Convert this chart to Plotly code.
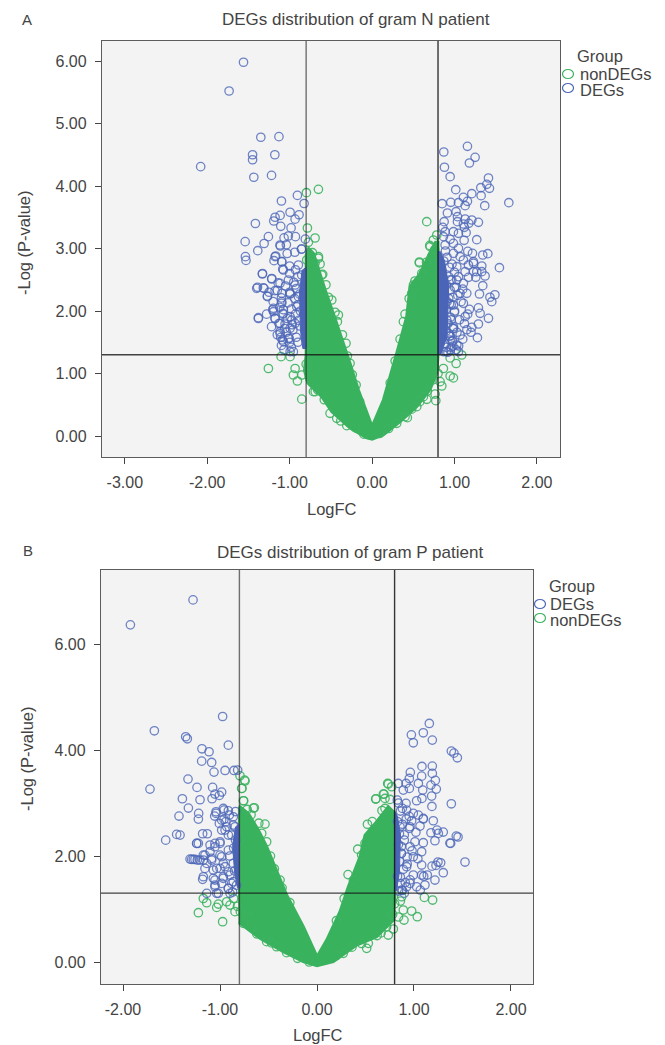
import plotly.graph_objects as go

# ---------- Panel A values (LogFC, -Log P) ----------
a_deg_x = [-1.56,-1.735,-1.35,-1.13,-1.45,-1.45,-1.18,-2.08,-1.435,-1.22,-0.906,-1.10,-0.825,-0.995,-0.886,-0.934,-1.116,-1.177,-1.193,-1.416,-1.108,-0.983,-1.258,-1.068,-1.016,-0.93,-0.81,-1.54,-1.31,-1.113,-1.04,-1.387,-0.858,-0.938,-1.03,-1.537,-1.53,-1.169,-1.19,-1.096,-1.0,-1.084,-1.33,-1.217,-1.39,-1.32,-1.27,-1.14,-1.38,-1.205,-1.177,-1.076,-1.096,-0.995,-0.975,-1.116,-1.088,-1.016,-0.955,
 -1.25,-1.15,-1.05,-0.95,-0.9,-1.2,-1.1,-1.0,-0.92,-1.28,-1.12,-1.02,-0.94,-0.88,-1.08,-0.98,-0.9,-1.22,-1.13,-1.03,-0.93,-0.87,-1.06,-0.97,-0.89,-1.15,-1.04,-0.96,-0.88,-1.1,-1.0,-0.92,-1.07,-0.98,-0.9,-1.0,-0.93,
 -1.117,-1.177,-1.096,-1.076,-1.331,-1.218,-1.4,-1.311,-1.27,-1.177,-1.117,-1.015,-1.096,-0.995,-1.096,-1.197,-1.197,-1.177,-1.379,-1.08,-0.995,-1.117,-1.056,-1.117,-1.109,-1.076,-1.004,-0.995,-0.934,-0.914,-0.894,-0.934,-0.854,-0.894,-0.995,-0.854,
 1.157,0.87,1.25,1.181,0.878,0.947,1.412,1.392,1.319,1.424,1.015,1.21,1.323,1.108,1.659,1.367,0.85,0.955,1.048,1.157,1.129,1.019,0.914,1.036,1.129,1.21,1.29,0.874,1.036,1.108,1.173,0.858,1.12,0.886,0.987,1.141,1.048,0.866,0.947,1.117,1.27,0.987,0.886,1.048,1.161,1.218,1.343,1.404,0.987,1.068,1.108,1.23,1.331,1.545,1.028,1.169,1.129,1.23,1.331,1.371,1.169,1.258,1.048,0.967,1.108,1.343,1.303,1.452,1.181,1.311,1.129,1.412,1.21,1.29,1.278,1.068,1.028,0.947,1.068,1.149,1.108,0.987,1.23,1.27,1.028,0.947,0.906,0.987,0.947,1.048,0.866,1.49,1.43,1.29,
 0.9,1.0,1.1,0.93,1.04,0.96,1.08,0.9,1.0,1.16,0.95,1.06,0.92,1.12,0.98,0.9,1.03,1.2,0.94,1.1,0.98,0.88,1.05,0.96,1.15,0.9,1.02,
 0.97,1.0,0.95,1.02,0.98,0.94,1.0,0.96,0.99,0.93,0.97,0.91,0.94,0.98,0.92,0.89,0.95,0.9,0.93,0.87,0.91,0.86]
a_deg_y = [5.98,5.52,4.78,4.79,4.50,4.42,4.50,4.31,4.14,4.17,3.85,3.76,3.72,3.58,3.54,3.47,3.53,3.50,3.44,3.40,3.355,3.33,3.19,3.17,3.20,3.19,3.15,3.11,3.08,3.04,3.06,2.965,2.99,2.94,2.92,2.87,2.81,2.88,2.805,2.79,2.72,2.67,2.60,2.52,2.38,2.37,2.23,2.45,1.88,2.02,1.88,2.02,2.15,2.28,1.856,1.64,1.536,1.56,1.35,
 2.30,2.33,2.40,2.46,2.55,2.15,2.21,2.30,2.36,1.95,2.06,2.13,2.20,2.27,1.95,2.03,2.10,1.75,1.80,1.88,1.95,2.0,1.72,1.78,1.85,1.62,1.66,1.70,1.76,1.45,1.5,1.58,1.38,1.42,1.5,2.6,2.66,
 3.056,2.869,2.789,2.656,2.592,2.512,2.363,2.363,2.24,2.325,2.443,2.496,2.283,2.272,2.123,2.043,1.989,1.883,1.893,1.963,1.909,1.803,1.792,1.669,1.579,1.509,1.563,1.723,1.803,2.069,2.229,2.416,2.576,2.736,1.349,2.992,
 4.635,4.544,4.459,4.368,4.30,4.149,4.128,4.027,3.973,3.963,3.941,3.877,3.845,3.819,3.733,3.685,3.717,3.739,3.733,3.755,3.685,3.589,3.568,3.509,3.472,3.456,3.419,3.429,3.429,3.392,3.403,3.339,3.339,3.269,3.269,3.253,3.243,3.189,3.147,3.131,3.141,3.083,3.056,3.003,2.955,2.923,2.896,2.917,2.923,2.869,2.816,2.789,2.72,2.693,2.709,2.736,2.629,2.629,2.629,2.56,2.539,2.539,2.549,2.496,2.443,2.405,2.272,2.149,2.027,1.963,1.909,1.883,1.739,1.792,1.573,1.616,1.456,1.376,2.283,2.283,2.123,2.096,2.763,2.629,2.496,2.336,1.856,1.749,1.536,1.349,1.349,2.26,2.22,2.05,
 2.42,2.38,2.35,2.2,2.25,2.1,2.15,2.03,2.0,1.95,1.9,1.86,1.8,1.8,1.72,1.68,1.66,1.66,1.6,1.55,1.52,1.48,1.44,1.42,1.7,1.35,1.38,
 2.75,2.62,2.5,2.38,2.22,2.12,1.98,1.86,1.72,1.64,1.52,2.86,2.7,1.44,1.34,2.96,1.6,1.42,2.55,2.8,2.15,1.9]
a_non_x = [-1.104,-1.258,-0.995,-0.934,-0.955,-0.853,-0.906,-0.853,-0.69,0.38,0.574,0.947,0.987,0.846,0.825,0.765,0.773,0.664,0.428,-0.307,1.02,1.088,0.947,0.865,-0.797,-0.651,-0.785,-0.692,-0.773,-0.724,-0.651,-0.631,-0.599,-0.712,-0.793,0.663,0.574,0.744,0.704,0.785,0.724,0.603,0.502,-0.611,-0.692,-0.651,-0.489,-0.409,-0.421,-0.316,-0.267,-0.194,0.502,0.481,0.623,0.724,-0.712,-0.51,-0.429,0.299,0.542,0.623,
 -0.56,-0.53,-0.45,-0.36,-0.3,-0.24,-0.15,-0.8,-0.76,-0.66,-0.58,-0.38,-0.2,-0.1,0.09,0.2,0.4,0.48,0.58,0.67,0.74,0.8,0.45,0.4,0.34,0.28,0.22,0.52,0.66,0.76,0.7]
a_non_y = [1.27,1.08,1.27,1.08,0.976,0.976,0.88,0.59,0.71,1.83,2.77,0.96,0.93,0.80,0.87,0.67,0.565,0.587,0.293,0.165,1.16,1.296,1.25,1.08,3.893,3.947,3.328,3.168,3.099,2.933,2.843,2.752,2.587,2.709,2.816,3.429,2.784,3.136,3.029,3.216,2.843,2.603,2.416,2.576,2.763,2.869,2.176,1.936,1.829,1.483,1.163,0.816,2.363,2.283,2.603,2.869,0.709,0.363,0.283,0.203,0.469,0.629,
 2.42,2.22,1.98,1.62,1.28,0.98,0.55,1.15,0.94,0.74,0.58,0.24,0.13,0.03,0.04,0.12,0.31,0.43,0.55,0.72,0.9,1.0,2.2,1.95,1.55,1.2,0.85,2.48,2.78,2.98,3.05]
a_band_x = [0,-0.166,-0.267,-0.307,-0.368,-0.47,-0.57,-0.65,-0.71,-0.77,-0.8,-0.8,-0.82,-0.78,-0.61,-0.49,-0.267,-0.065,0,0.135,0.34,0.54,0.70,0.785,0.8,0.8,0.77,0.70,0.583,0.46,0.42,0.30,0.137,0]
a_band_y = [0.15,0.736,1.16,1.32,1.59,1.96,2.34,2.66,2.92,3.0,2.9,1.3,1.05,0.85,0.63,0.39,0.128,-0.03,-0.05,0.016,0.23,0.47,0.736,1.0,1.3,3.1,3.1,2.93,2.6,2.39,1.91,1.33,0.576,0.15]
a_core_x = [-0.8,-0.8,-0.84,-0.87,-0.88,-0.85,-0.8,None, 0.8,0.8,0.84,0.91,0.93,0.88,0.83,0.8]
a_core_y = [2.7,1.4,1.4,1.7,2.3,2.65,2.7,None, 2.95,1.32,1.32,1.6,2.4,2.8,2.95,2.95]

# ---------- Panel B values ----------
b_deg_x = [-1.278,-1.924,-0.973,-1.677,-1.354,-1.337,-0.914,-1.186,-1.113,-1.189,-1.086,-1.062,-0.948,-0.856,-0.818,-1.33,-1.237,-1.722,-1.076,-0.983,-1.052,-1.007,-1.082,-1.388,-1.206,-1.326,-1.423,-1.22,-1.223,-1.041,-1.055,-0.959,-0.914,-0.959,-0.863,-1.007,-0.931,-0.845,-0.983,-1.447,-1.179,-1.131,-1.56,-0.914,-1.412,-1.24,-1.223,-1.0,-1.052,-1.103,-1.155,-1.309,-1.275,-1.234,-1.172,-1.086,-0.983,-0.966,-1.155,-1.069,-1.0,-0.914,-1.179,-1.052,-0.966,-0.863,-1.052,-0.914,-0.983,-1.034,-0.897,-1.137,
 -0.966,-1.041,-0.983,-0.904,-0.863,-0.948,-0.88,-1.103,-1.052,-1.0,-1.172,-1.086,-1.0,-0.914,-1.137,-1.034,-0.948,-1.172,-1.069,-0.966,-0.863,-0.897,-1.052,-0.914,-1.017,-0.88,-1.241,-1.292,-1.258,-1.206,-0.84,-0.86,-0.9,-0.85,-0.83,-0.87,-0.94,-0.84,
 1.158,0.973,1.096,0.993,1.189,1.385,1.412,1.447,1.082,1.189,0.962,1.189,1.079,0.952,1.22,0.838,0.918,1.045,1.175,0.89,0.952,1.09,1.23,1.182,1.027,1.082,0.828,0.918,1.385,1.185,0.924,1.045,1.096,1.199,0.976,1.062,0.952,0.856,1.175,1.251,1.302,1.436,1.378,1.216,1.275,1.227,1.302,1.216,1.137,1.079,1.079,1.079,1.01,1.096,0.959,0.993,0.924,0.993,0.924,1.027,1.113,0.959,0.873,1.065,0.993,1.096,0.959,1.526,1.237,1.454,1.37,1.247,1.186,1.10,
 0.88,0.95,1.02,0.9,0.98,0.87,1.04,0.93,0.86,0.96,0.9,0.88,
 0.84,0.86,0.83,0.88,0.85,0.9,0.84,0.87,0.93,0.85,0.89,0.83,0.86,0.91,0.84,0.92,0.87]
b_deg_y = [6.836,6.365,4.635,4.365,4.252,4.214,4.094,4.025,3.969,3.792,3.767,3.585,3.616,3.616,3.623,3.453,3.296,3.264,3.296,3.208,3.17,3.145,3.082,3.082,3.063,2.906,2.755,2.805,2.698,2.836,2.755,2.868,2.855,2.692,2.742,2.616,2.553,2.553,2.49,2.409,2.421,2.421,2.30,2.396,2.396,2.239,2.239,2.239,2.176,2.082,2.019,1.943,1.937,1.925,1.925,1.925,1.987,1.862,1.767,1.736,1.767,1.704,1.56,1.547,1.579,1.516,1.421,1.39,1.484,1.296,1.296,1.296,
 2.899,2.805,2.679,2.774,2.585,2.491,2.396,2.208,2.239,2.27,2.019,1.956,2.019,2.113,1.862,1.767,1.799,1.61,1.579,1.61,1.862,1.642,1.453,1.39,1.296,1.484,2.239,1.937,1.937,1.925,2.3,2.15,2.0,1.72,1.45,1.32,2.65,2.84,
 4.503,4.289,4.327,4.138,4.189,3.981,3.943,3.855,3.692,3.698,3.579,3.56,3.509,3.465,3.428,3.371,3.371,3.371,3.34,3.245,3.277,3.245,3.264,3.132,3.044,3.088,3.057,2.994,2.987,2.937,2.868,2.774,2.698,2.667,2.667,2.566,2.522,2.553,2.44,2.428,2.453,2.377,2.239,2.289,1.874,1.824,1.686,1.547,1.642,1.642,1.83,2.082,2.27,2.252,2.176,1.987,1.799,1.642,1.421,1.421,1.453,1.484,1.358,1.358,2.805,2.711,2.553,1.887,2.49,2.36,2.245,1.887,1.81,1.62,
 2.9,2.75,2.45,2.3,2.1,2.05,1.95,1.85,1.6,1.55,1.3,1.35,
 3.0,2.85,2.65,2.6,2.42,2.4,2.22,2.05,1.98,1.9,1.75,1.62,1.48,1.5,1.34,2.7,2.18]
b_non_x = [-1.172,-1.137,-1.223,-0.973,-1.017,-1.034,-0.897,-0.845,-0.931,1.107,1.192,1.034,0.976,0.89,0.897,0.787,0.735,0.873,-0.536,-0.646,-0.759,-0.742,-0.777,-0.794,-0.746,-0.773,-0.756,-0.656,0.729,0.77,0.691,0.608,0.701,0.753,0.701,-0.708,-0.759,-0.519,-0.416,-0.313,0.271,0.512,0.529,0.718,0.605,0.684,0.735,0.495,0.46,0.375,-0.381,-0.519,-0.57,
 -0.6,-0.68,-0.72,-0.48,-0.44,-0.36,-0.28,-0.24,-0.17,-0.82,-0.86,-0.79,-0.62,-0.47,-0.2,-0.08,0.1,0.2,0.36,0.46,0.62,0.66,0.76,0.42,0.52,0.32,0.28,0.2,0.57,0.67,0.78,0.8,0.84,0.86]
b_non_y = [1.2,1.119,0.931,0.761,1.094,1.031,1.075,0.95,1.138,1.22,1.17,0.855,0.962,0.981,0.792,0.623,0.509,1.233,2.604,2.912,3.044,3.415,3.277,3.516,3.434,3.277,3.044,2.906,3.371,3.308,3.17,3.082,3.088,3.069,2.899,0.855,0.73,0.384,0.289,0.176,0.164,0.258,0.352,0.667,3.075,3.17,3.358,2.239,2.019,1.547,1.547,2.27,2.428,
 2.62,2.78,2.88,2.0,1.76,1.4,1.12,0.85,0.6,1.05,1.2,0.95,0.53,0.36,0.07,0.0,0.05,0.12,0.28,0.35,0.5,0.55,0.88,2.13,2.6,1.65,1.2,0.78,2.65,2.86,0.9,1.1,0.85,1.15]
b_band_x = [0,-0.141,-0.313,-0.416,-0.519,-0.605,-0.708,-0.794,-0.8,-0.8,-0.794,-0.588,-0.347,-0.141,0,0.168,0.409,0.615,0.787,0.804,0.804,0.735,0.615,0.495,0.443,0.323,0.237,0.1,0]
b_band_y = [0.10,0.667,1.264,1.736,2.176,2.491,2.805,2.93,2.9,1.3,0.73,0.447,0.195,0.006,-0.07,0.006,0.32,0.478,0.792,1.296,2.805,2.93,2.648,2.396,1.987,1.421,0.95,0.415,0.10]
b_core_x = [-0.8,-0.8,-0.82,-0.85,-0.87,-0.84,-0.8,None, 0.8,0.8,0.82,0.85,0.86,0.83,0.8]
b_core_y = [2.6,1.4,1.4,1.7,2.2,2.55,2.6,None, 2.85,1.35,1.35,1.7,2.4,2.75,2.85]

a_xticks = [-3, -2, -1, 0, 1, 2]
a_yticks = [0, 1, 2, 3, 4, 5, 6]
b_xticks = [-2, -1, 0, 1, 2]
b_yticks = [0, 2, 4, 6]

W, H = 665, 1045
BLUE, GREEN = "#4c66b8", "#3cb361"
FONT = "Liberation Sans"
TXT = "#444444"

fig = go.Figure()

def add_panel(xa, ya, non_x, non_y, band_x, band_y, deg_x, deg_y, core_x, core_y):
    mk = dict(symbol="circle-open", size=8.4, line=dict(width=1.3))
    fig.add_trace(go.Scatter(x=band_x, y=band_y, mode="lines", fill="toself", fillcolor="#39b25e",
                             line=dict(color="#39b25e", width=3), xaxis=xa, yaxis=ya, showlegend=False, hoverinfo="skip"))
    fig.add_trace(go.Scatter(x=non_x, y=non_y, mode="markers", name="nonDEGs", xaxis=xa, yaxis=ya, showlegend=False,
                             marker=dict(color=GREEN, opacity=0.9, **mk)))
    fig.add_trace(go.Scatter(x=core_x, y=core_y, mode="lines", fill="toself", fillcolor="#4a64b6",
                             line=dict(color="#4a64b6", width=1), xaxis=xa, yaxis=ya, showlegend=False, hoverinfo="skip"))
    fig.add_trace(go.Scatter(x=deg_x, y=deg_y, mode="markers", name="DEGs", xaxis=xa, yaxis=ya, showlegend=False,
                             marker=dict(color=BLUE, opacity=0.8, **mk)))

add_panel("x", "y", a_non_x, a_non_y, a_band_x, a_band_y, a_deg_x, a_deg_y, a_core_x, a_core_y)
add_panel("x2", "y2", b_non_x, b_non_y, b_band_x, b_band_y, b_deg_x, b_deg_y, b_core_x, b_core_y)

def common(vals, rng):
    return dict(range=rng, tickvals=vals, ticktext=[f"{v:.2f}" for v in vals],
                ticks="outside", ticklen=6, tickwidth=1.2, tickcolor="#444", showgrid=False, zeroline=False,
                showline=True, linecolor="#5c5c5c", linewidth=1.3, mirror=True,
                ticklabelstandoff=5, tickfont=dict(family=FONT, size=16, color=TXT))

def ax(px0, px1, rng, vals):
    return dict(domain=[px0 / W, px1 / W], **common(vals, rng))

def ay(py0, py1, rng, vals):
    return dict(domain=[1 - py1 / H, 1 - py0 / H], **common(vals, rng))

shapes = []
for xr, yr, y0, y1, x0, x1 in [("x", "y", -0.336, 6.32, -3.277, 2.28),
                               ("x2", "y2", -0.415, 7.4, -2.227, 2.227)]:
    for v, c in zip((-0.8, 0.8), ("rgba(40,40,40,0.65)", "rgba(20,20,20,0.85)")):
        shapes.append(dict(type="line", xref=xr, yref=yr, x0=v, x1=v, y0=y0, y1=y1, line=dict(color=c, width=1.4), layer="above"))
    shapes.append(dict(type="line", xref=xr, yref=yr, x0=x0, x1=x1, y0=1.3, y1=1.3, line=dict(color="rgba(20,20,20,0.8)", width=1.3), layer="above"))

annotations = []
def text(px, py, s, size=16.5, angle=0, xanchor="center"):
    annotations.append(dict(xref="paper", yref="paper", x=px / W, y=1 - py / H, text=s, showarrow=False,
                            font=dict(family=FONT, size=size, color=TXT), textangle=angle, xanchor=xanchor, yanchor="middle"))

text(27, 20, "A", 15)
text(356, 20, "DEGs distribution of gram N patient", 17)
text(24, 243, "-Log (P-value)", 16.5, angle=-90)
text(332, 509, "LogFC", 16.5)
text(575, 56, "Group", 16.5, xanchor="left")
text(578, 74, "nonDEGs", 16.5, xanchor="left")
text(578, 90, "DEGs", 16.5, xanchor="left")

text(28, 550, "B", 15)
text(350, 552, "DEGs distribution of gram P patient", 17)
text(27, 759, "-Log (P-value)", 16.5, angle=-90)
text(318, 1035, "LogFC", 16.5)
text(547, 586, "Group", 16.5, xanchor="left")
text(548, 603.5, "DEGs", 16.5, xanchor="left")
text(548, 619.5, "nonDEGs", 16.5, xanchor="left")

for cx, cy, c in [(568, 74, GREEN), (568, 88, BLUE), (540, 604, BLUE), (540, 618, GREEN)]:
    shapes.append(dict(type="circle", xref="paper", yref="paper", x0=(cx - 5.5) / W, x1=(cx + 5.5) / W,
                       y0=1 - (cy + 4.5) / H, y1=1 - (cy - 4.5) / H, line=dict(color=c, width=1.2), fillcolor="rgba(0,0,0,0)"))

fig.update_layout(
    width=W, height=H, margin=dict(l=0, r=0, t=0, b=0), autosize=False,
    paper_bgcolor="white", plot_bgcolor="#f3f3f3", showlegend=False,
    xaxis=dict(ax(102, 560, [-3.277, 2.28], a_xticks), anchor="y"),
    yaxis=dict(ay(41, 457, [-0.336, 6.32], a_yticks), anchor="x"),
    xaxis2=dict(ax(101, 533, [-2.227, 2.227], b_xticks), anchor="y2"),
    yaxis2=dict(ay(570, 984, [-0.415, 7.4], b_yticks), anchor="x2"),
    shapes=shapes, annotations=annotations,
)

fig.write_html("out.html", post_script="document.body.style.margin='0';", config={"displayModeBar": False})
